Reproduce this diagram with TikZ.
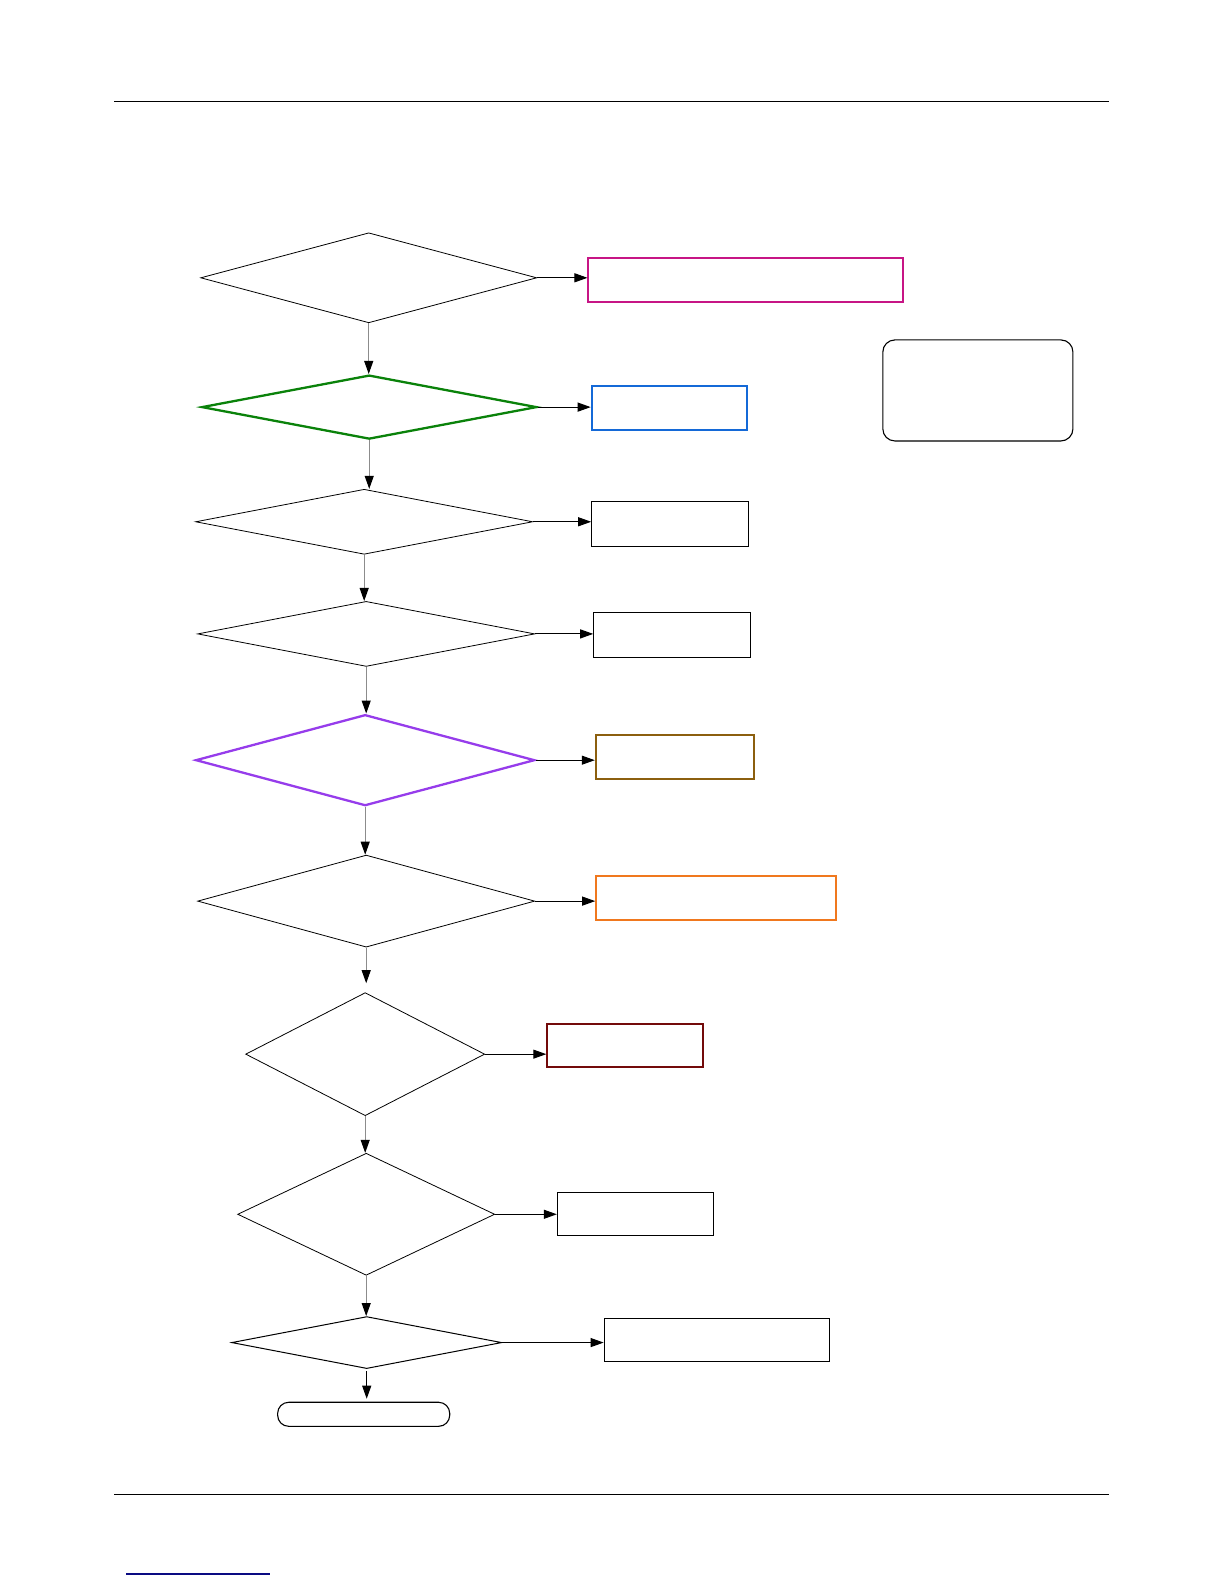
\documentclass[tikz,border=0pt]{standalone}
\usetikzlibrary{shapes.geometric,arrows.meta}
\definecolor{cmag}{RGB}{199,21,133}
\definecolor{cgreen}{RGB}{10,130,10}
\definecolor{cblue}{RGB}{20,105,215}
\definecolor{cpurple}{RGB}{150,60,235}
\definecolor{cbrown}{RGB}{140,95,15}
\definecolor{corange}{RGB}{240,120,30}
\definecolor{cdred}{RGB}{115,10,10}
\definecolor{cnavy}{RGB}{10,10,130}
\definecolor{cgrey}{RGB}{140,140,140}
\begin{document}
\begin{tikzpicture}[x=1.0099pt,y=-1.0099pt,
  dia/.style={diamond,draw=black,line width=0.8pt,inner sep=0pt,minimum width=#1},
  dh/.style={minimum height=#1},
  box/.style={rectangle,draw=black,line width=1.1pt,inner sep=0pt},
  bw/.style={minimum width=#1},
  bh/.style={minimum height=#1},
  harr/.style={draw=black,line width=1pt,-{Triangle[length=13pt,width=9pt]}},
  varr/.style={draw=cgrey,line width=1pt,-{Triangle[length=13pt,width=9pt,fill=black,color=black]}},
  rule/.style={draw=black,line width=1pt}]
\useasboundingbox (0,0) rectangle (1212,1568);
% page rules
\coordinate (h1) at (113,100); \coordinate (h2) at (1098,100);
\coordinate (f1) at (113,1479); \coordinate (f2) at (1098,1479);
\coordinate (b1) at (125,1558); \coordinate (b2) at (267,1558);
\draw[rule] (h1) -- (h2);
\draw[rule] (f1) -- (f2);
\draw[draw=cnavy,line width=1.2pt] (b1) -- (b2);
% diamonds
\node[dia=336pt,dh=90pt] (D1) at (365,275) {};
\node[dia=335pt,dh=64pt,draw=cgreen,line width=2.3pt] (D2) at (365.5,403) {};
\node[dia=337pt,dh=65pt] (D3) at (360.5,516.5) {};
\node[dia=337pt,dh=65pt] (D4) at (362.5,627.5) {};
\node[dia=339pt,dh=91pt,draw=cpurple,line width=2.3pt] (D5) at (361.5,752.5) {};
\node[dia=337pt,dh=92pt] (D6) at (362.5,892) {};
\node[dia=239pt,dh=123pt] (D7) at (361.5,1043.5) {};
\node[dia=257pt,dh=122pt] (D8) at (362.5,1202) {};
\node[dia=270pt,dh=52pt,line width=1pt] (D9) at (363,1329) {};
% boxes
\node[box,bw=314pt,bh=44pt,draw=cmag,line width=2pt] (R1) at (738,277) {};
\node[box,bw=155pt,bh=44pt,draw=cblue,line width=2pt] (R2) at (662.5,404) {};
\node[box,bw=157pt,bh=45pt] (R3) at (663.5,518.5) {};
\node[box,bw=157pt,bh=45pt] (R4) at (665.5,628.5) {};
\node[box,bw=158pt,bh=44pt,draw=cbrown,line width=2pt] (R5) at (668,749) {};
\node[box,bw=240pt,bh=44pt,draw=corange,line width=2pt] (R6) at (709,889) {};
\node[box,bw=156pt,bh=43pt,draw=cdred,line width=2pt] (R7) at (619,1034.5) {};
\node[box,bw=156pt,bh=43pt] (R8) at (629,1201.5) {};
\node[box,bw=225pt,bh=43pt] (R9) at (709.5,1326.5) {};
\node[box,bw=190pt,bh=101pt,rounded corners=12pt] (RB) at (968,386.5) {};
\node[box,bw=172pt,bh=24pt,rounded corners=11pt] (T) at (360,1400) {};
% horizontal connectors
\draw[harr] (D1.east) -- (D1.east -| R1.west);
\draw[harr] (D2.east) -- (D2.east -| R2.west);
\draw[harr] (D3.east) -- (D3.east -| R3.west);
\draw[harr] (D4.east) -- (D4.east -| R4.west);
\draw[harr] (D5.east) -- (D5.east -| R5.west);
\draw[harr] (D6.east) -- (D6.east -| R6.west);
\draw[harr] (D7.east) -- (D7.east -| R7.west);
\draw[harr] (D8.east) -- (D8.east -| R8.west);
\draw[harr] (D9.east) -- (D9.east -| R9.west);
% vertical connectors
\draw[varr] (D1.south) -- (D1.south |- D2.north);
\draw[varr] (D2.south) -- (D2.south |- D3.north);
\draw[varr] (D3.south) -- (D3.south |- D4.north);
\draw[varr] (D4.south) -- (D4.south |- D5.north);
\draw[varr] (D5.south) -- (D5.south |- D6.north);
\draw[varr,shorten >=9pt] (D6.south) -- (D6.south |- D7.north);
\draw[varr] (D7.south) -- (D7.south |- D8.north);
\draw[varr] (D8.south) -- (D8.south |- D9.north);
\draw[harr,shorten <=2pt,shorten >=3pt] (D9.south) -- (D9.south |- T.north);
\end{tikzpicture}
\end{document}
